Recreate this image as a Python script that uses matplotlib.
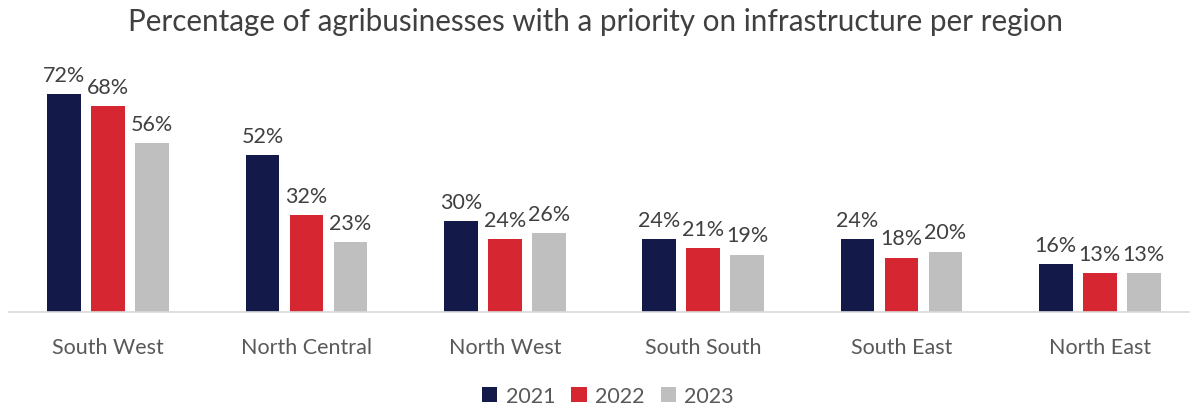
import numpy as np
import matplotlib.pyplot as plt

plt.rcParams['font.family'] = ['Lato', 'DejaVu Sans']

regions = ["South West", "North Central", "North West", "South South", "South East", "North East"]
years = ["2021", "2022", "2023"]
v2021 = [72, 52, 30, 24, 24, 16]
v2022 = [68, 32, 24, 21, 18, 13]
v2023 = [56, 23, 26, 19, 20, 13]
colors = ["#131A4A", "#D52631", "#BFBFBF"]

fig = plt.figure(figsize=(11.9, 4.1), dpi=100)
ax = fig.add_axes([9 / 1190, 97 / 410, 1190 / 1190, 242 / 410])

x = np.arange(len(regions))
width = 0.171
step = 0.222
for i, (vals, lab, c) in enumerate(zip([v2021, v2022, v2023], years, colors)):
    pos = x + (i - 1) * step
    bars = ax.bar(pos, vals, width, color=c, label=lab)
    for b, v in zip(bars, vals):
        ax.text(b.get_x() + b.get_width() / 2, v + 3, f"{v}%", ha='center', va='bottom',
                fontsize=15.5, color='#404040')

ax.set_xlim(-0.5, len(regions) - 0.5)
ax.set_ylim(0, 80)
ax.set_xticks(x)
ax.set_xticklabels(regions, fontsize=15.5, color='#595959')
ax.tick_params(axis='x', length=0, pad=18)
ax.set_yticks([])
for s in ['top', 'right', 'left']:
    ax.spines[s].set_visible(False)
ax.spines['bottom'].set_color('#D9D9D9')
ax.spines['bottom'].set_linewidth(1.2)
ax.spines['bottom'].set_bounds(-0.5, 5.45)

fig.text(0.5, 1 - 22 / 410, "Percentage of agribusinesses with a priority on infrastructure per region",
         ha='center', va='center', fontsize=21.3, color='#404040')

leg = fig.legend(loc='center', bbox_to_anchor=(0.511, 1 - 397 / 410), ncol=3, frameon=False,
                 fontsize=15.5, handlelength=0.7, handleheight=0.7, columnspacing=0.75, handletextpad=0.4)
for t in leg.get_texts():
    t.set_color('#595959')

fig.savefig("out.png", dpi=100)
